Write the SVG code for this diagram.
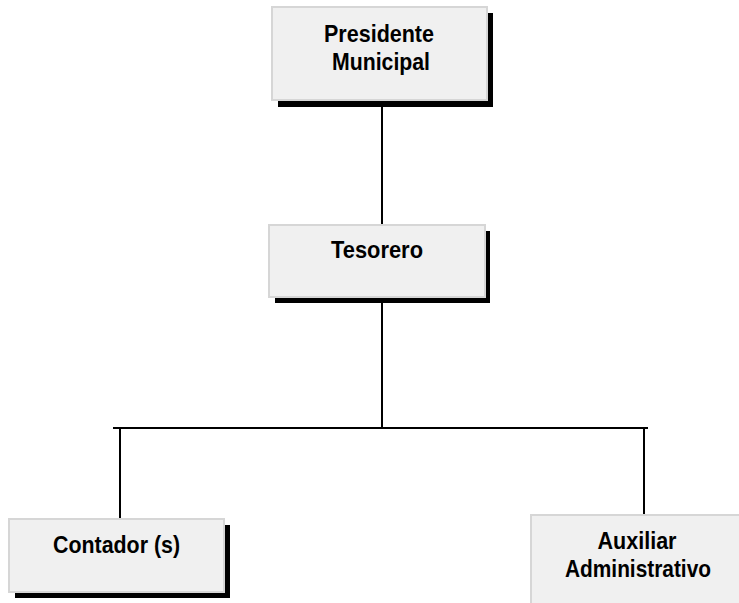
<svg xmlns="http://www.w3.org/2000/svg" width="739" height="603" viewBox="0 0 739 603">
<style>
.shadow{fill:#000}
.box{fill:#f0f0f0;stroke:#d6d6d6;stroke-width:2}
.lbl{font-family:"Liberation Sans",Arial,sans-serif;font-weight:bold;font-size:24px;fill:#000;text-anchor:middle}
.conn{stroke:#000;stroke-width:2;fill:none}
</style>
<rect width="739" height="603" fill="#fff"/>
<g id="connectors">
<line class="conn" x1="382" y1="106" x2="382" y2="226"/>
<line class="conn" x1="382" y1="303" x2="382" y2="428"/>
<line class="conn" x1="113" y1="428" x2="648" y2="428"/>
<line class="conn" x1="120" y1="428" x2="120" y2="519"/>
<line class="conn" x1="644" y1="428" x2="644" y2="516"/>
</g>
<g id="presidente">
<rect class="shadow" x="278" y="13" width="215" height="94"/>
<rect class="box" x="272" y="7" width="215" height="93"/>
<text class="lbl" x="379" y="42" textLength="110" lengthAdjust="spacingAndGlyphs">Presidente</text>
<text class="lbl" x="381" y="70" textLength="98" lengthAdjust="spacingAndGlyphs">Municipal</text>
</g>
<g id="tesorero">
<rect class="shadow" x="275" y="231" width="215" height="72"/>
<rect class="box" x="269" y="225" width="216" height="72"/>
<text class="lbl" x="377" y="258" textLength="92" lengthAdjust="spacingAndGlyphs">Tesorero</text>
</g>
<g id="contador">
<rect class="shadow" x="15" y="525" width="215" height="73"/>
<rect class="box" x="9" y="519" width="215" height="73"/>
<text class="lbl" x="116.5" y="553" textLength="127" lengthAdjust="spacingAndGlyphs">Contador (s)</text>
</g>
<g id="auxiliar">
<rect class="shadow" x="537" y="521" width="215" height="90"/>
<rect class="box" x="531" y="515" width="215" height="90"/>
<text class="lbl" x="637" y="549" textLength="79" lengthAdjust="spacingAndGlyphs">Auxiliar</text>
<text class="lbl" x="638" y="577" textLength="146" lengthAdjust="spacingAndGlyphs">Administrativo</text>
</g>
</svg>
